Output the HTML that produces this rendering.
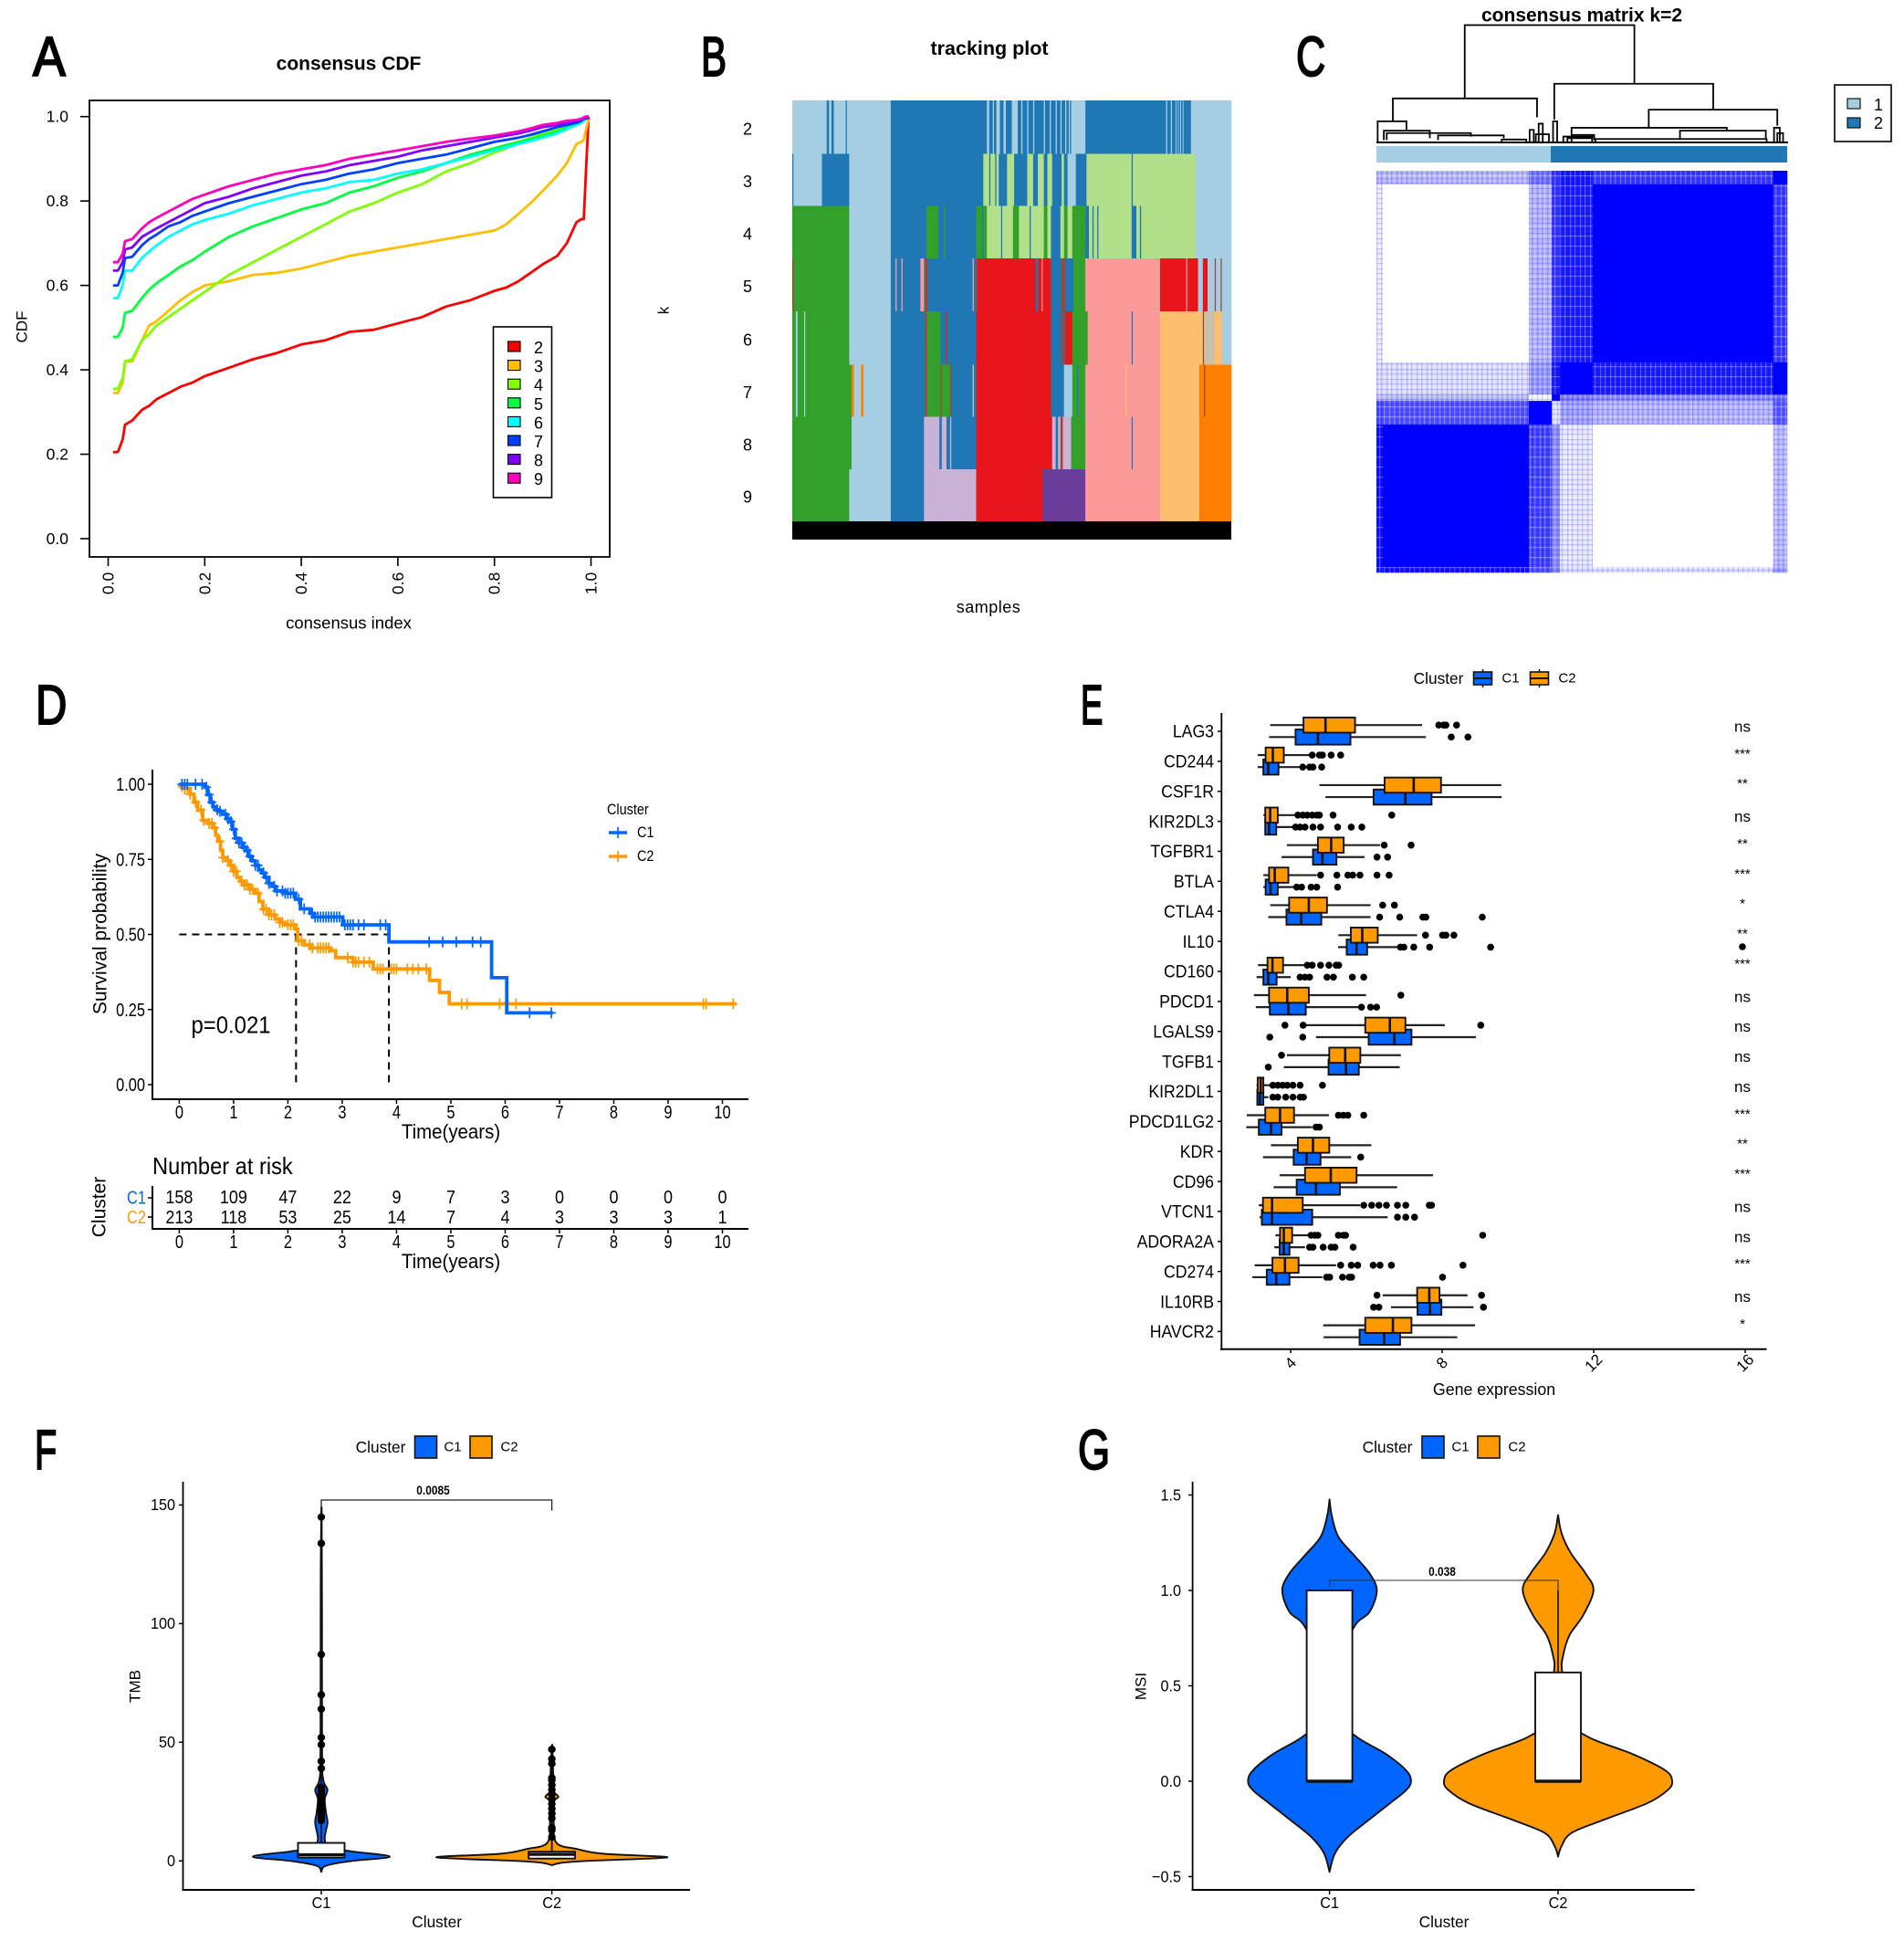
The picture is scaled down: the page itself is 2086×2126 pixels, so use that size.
<!DOCTYPE html>
<html lang="en">
<head>
<meta charset="utf-8">
<title>Consensus clustering figure</title>
<style>
html,body{margin:0;padding:0;background:#fff;}
#fig{display:block;font-family:"Liberation Sans",sans-serif;}
</style>
</head>
<body>
<svg id="fig" xmlns="http://www.w3.org/2000/svg" width="2086" height="2126" viewBox="0 0 2086 2126"></svg>
<script>
/* ---------- Panel A data ---------- */
const cdfX=[0.01,0.02,0.03,0.035,0.05,0.07,0.085,0.1,0.125,0.15,0.175,0.2,0.25,0.3,0.35,0.4,0.45,0.5,0.55,0.6,0.65,0.7,0.75,0.8,0.825,0.85,0.875,0.9,0.93,0.95,0.97,0.98,0.985,0.99,0.995];
const cdfK2=[.205,.205,.235,.27,.28,.305,.315,.33,.345,.36,.37,.385,.405,.425,.44,.46,.47,.49,.495,.51,.525,.55,.565,.587,.595,.61,.63,.65,.67,.70,.75,.757,.757,.88,1];
const cdfK3=[.345,.345,.37,.42,.42,.47,.505,.515,.54,.565,.585,.6,.61,.625,.63,.64,.655,.67,.68,.69,.70,.71,.72,.73,.745,.77,.795,.824,.86,.89,.935,.94,.945,.97,.993];
const cdfK4=[.355,.355,.38,.42,.425,.47,.485,.505,.525,.545,.565,.585,.625,.655,.685,.715,.745,.775,.795,.82,.84,.87,.89,.915,.925,.94,.95,.96,.97,.98,.985,.99,.995,.995,1];
const cdfK5=[.478,.478,.5,.535,.54,.57,.59,.605,.625,.645,.66,.68,.715,.74,.76,.78,.795,.82,.835,.855,.87,.89,.91,.925,.933,.94,.947,.955,.965,.975,.985,.99,.995,.995,1];
const cdfK6=[.57,.57,.6,.635,.635,.665,.68,.695,.715,.73,.745,.755,.77,.79,.805,.82,.83,.845,.85,.865,.875,.89,.905,.92,.927,.935,.942,.95,.96,.97,.98,.985,.99,.995,1];
const cdfK7=[.6,.6,.63,.665,.668,.695,.71,.72,.74,.75,.765,.775,.795,.81,.825,.84,.85,.865,.875,.89,.9,.91,.925,.94,.945,.95,.957,.965,.975,.98,.985,.99,.995,.995,1];
const cdfK8=[.635,.635,.655,.685,.69,.715,.725,.735,.75,.765,.78,.795,.81,.83,.845,.86,.87,.885,.895,.905,.92,.93,.94,.95,.955,.96,.967,.975,.98,.985,.99,.995,.995,1,1];
const cdfK9=[.655,.655,.675,.705,.71,.735,.75,.76,.775,.79,.805,.815,.835,.85,.865,.875,.885,.9,.91,.92,.93,.94,.948,.955,.96,.965,.972,.98,.985,.99,.992,.995,.998,1,1];
const cdfLabels=['2','3','4','5','6','7','8','9'];
const cdfTicks=['0.0','0.2','0.4','0.6','0.8','1.0'];

/* ---------- Panel B data: runs of [first sample, cluster] ---------- */
const trackK2=[[0,1],[29,2],[31,1],[33,2],[35,1],[45,2],[46,1],[83,2],[164,1],[166,2],[169,1],[170,2],[172,1],[175,2],[178,1],[180,2],[185,1],[190,2],[193,1],[194,2],[198,1],[199,2],[203,1],[204,2],[212,1],[213,2],[217,1],[218,2],[222,1],[223,2],[226,1],[227,2],[230,1],[231,2],[233,1],[234,2],[235,1],[247,2],[315,1],[316,2],[319,1],[320,2],[323,1],[323.7,2],[325,1],[325.7,2],[327,1],[327.7,2],[329,1],[329.7,2],[336,1]];
const trackK3=[[0,2],[1,1],[25,2],[48,1],[83,2],[161,3],[166,2],[167,3],[171,2],[172,3],[174,2],[181,3],[187,2],[198,3],[203,2],[207,3],[212,2],[215,3],[219,2],[227,3],[229,2],[232,1],[239,2],[248,3],[286,2],[287,3],[340,1]];
const trackK4=[[0,4],[48,1],[83,2],[113,4],[123,2],[128,4],[129,2],[155,4],[160,2],[161,4],[164,3],[176,2],[177,3],[186,4],[191,3],[200,2],[201,3],[212,4],[215,3],[218,2],[226,3],[229,4],[232,3],[236,4],[247,2],[250,3],[253,2],[254,3],[257,2],[258,3],[286,2],[290,3],[293,2],[294,3],[340,1]];
const trackK5=[[0,11],[1,4],[48,1],[83,2],[87,5],[88,2],[92,5],[93,2],[108,5],[111,2],[112,11],[114,2],[152,5],[153,2],[155,11],[156,6],[205,2],[207,6],[210,5],[211,6],[218,2],[227,11],[230,2],[237,4],[247,5],[310,6],[332,5],[333,6],[342,1],[346,6],[350,1],[356,11],[357,1],[361,11],[362,1]];
const trackK6=[[0,4],[3,1],[4.5,4],[10,1],[11,4],[48,1],[83,2],[112,11],[113.5,4],[125,2],[129,11],[130.5,2],[155,6],[218,2],[227,11],[229,2],[230,6],[236,4],[249,5],[286,2],[287,5],[310,7],[346,11],[347,12],[356,7],[362,1]];
const trackK7=[[0,4],[3,1],[4.5,4],[10,1],[11,4],[50,8],[52,1],[58,8],[60,1],[83,2],[112,11],[113.5,4],[125,11],[126,4],[133,11],[134,2],[152,12],[153,2],[155,6],[218,2],[229,1],[236,4],[240,2],[241,4],[247,5],[281,7],[282,5],[310,7],[343,8],[347,11],[348,8]];
const trackK8=[[0,4],[50,1],[83,2],[111,9],[124,2],[126,9],[130,2],[133,9],[134,2],[155,6],[219,9],[222,2],[224,9],[226,11],[228,9],[235,4],[247,5],[286,2],[287,5],[310,7],[343,8]];
const trackK9=[[0,4],[48,1],[83,2],[111,9],[155,6],[211,10],[247,5],[310,7],[343,8]];
const trackK=['2','3','4','5','6','7','8','9'];

/* ---------- Panel C data ---------- */
const matrixColBreaks=[0,.016,.371,.427,.447,.527,.966,1];
const matrixRowBreaks=[0,.034,.477,.557,.573,.632,.986,1];
const matrixValues=[
[.3,.28,.55,.8,.92,.78,1],
[.08,0,.3,.8,.9,1,.78],
[.15,.13,.4,.92,1,.9,1],
[.3,.3,.05,1,.55,.5,.6],
[.72,.68,1,.12,.38,.3,.65],
[.95,1,.75,.45,.1,0,.28],
[.9,.95,.7,.5,.15,.12,.4]];
const dendroMerges=[
[.215,.628,1,.375,.5],[.04,.391,.375,.18,.214],[.433,.82,.5,.196,.279],[.663,.976,.279,.125,.143],
[.475,.853,.125,.071,.1],[.739,.948,.1,.029,.029],[.003,.073,.18,0,.1],[.018,.13,.1,.02,.036],
[.025,.23,.08,.02,.05],[.15,.31,.06,.02,.036],[.305,.365,.025,0,0],[.373,.383,.107,0,0],
[.395,.405,.16,0,0],[.388,.42,.07,0,0],[.43,.44,.18,0,0],[.455,.53,.05,0,.018],
[.475,.53,.064,0,.02],[.465,.525,.036,0,0],[.533,.95,.029,0,0],[.968,.982,.125,0,0],[.976,.99,.079,0,0]];

/* ---------- Panel D data ---------- */
const kmC1Time=[0,.48,.52,.57,.62,.66,.72,.8,.87,.94,.98,1.03,1.1,1.16,1.22,1.28,1.34,1.4,1.46,1.52,1.58,1.65,1.71,1.77,1.95,2.14,2.23,2.41,2.46,3.01,3.86,5.75,6.03];
const kmC1Surv=[1,.99,.965,.94,.925,.915,.91,.9,.885,.875,.85,.82,.805,.79,.78,.76,.745,.73,.715,.705,.69,.67,.66,.645,.637,.617,.585,.57,.558,.532,.475,.356,.239];
const kmC1End=6.88;
const kmC2Time=[0,.1,.2,.27,.34,.43,.52,.62,.67,.71,.76,.8,.87,.94,1.0,1.06,1.12,1.2,1.3,1.4,1.47,1.54,1.65,1.77,1.85,1.95,2.14,2.18,2.3,2.41,2.78,2.88,3.2,3.57,4.61,4.79,4.97];
const kmC2Surv=[.993,.985,.967,.94,.914,.88,.87,.855,.83,.81,.78,.756,.745,.73,.71,.69,.677,.665,.65,.637,.61,.584,.565,.551,.54,.532,.518,.479,.465,.455,.446,.423,.408,.385,.347,.307,.269];
const kmC2End=10.25;
const censorC1=[.05,.1,.15,.3,.42,.5,.55,.6,.7,.75,.85,.9,.95,1,1.05,1.1,1.15,1.2,1.25,1.3,1.4,1.45,1.55,1.6,1.65,1.75,1.8,1.9,1.95,2,2.05,2.1,2.2,2.3,2.45,2.5,2.55,2.6,2.65,2.7,2.75,2.8,2.85,2.9,2.95,3.05,3.1,3.15,3.2,3.3,3.4,3.7,3.8,4.6,4.85,5.1,5.4,5.55,6.45,6.85];
const censorC2=[.05,.1,.15,.2,.3,.4,.45,.55,.6,.65,.75,.8,.9,.95,1,1.05,1.15,1.2,1.25,1.3,1.35,1.45,1.55,1.6,1.65,1.7,1.75,1.85,1.9,2,2.05,2.1,2.2,2.25,2.4,2.45,2.55,2.6,2.65,2.7,2.75,3.1,3.2,3.25,3.3,3.4,3.5,3.65,3.7,3.75,3.9,3.95,4.0,4.2,4.3,4.4,4.55,5.2,5.3,5.9,6.2,9.65,9.7,10.2];
const medianTimes=[2.15,3.86];
const kmXTicks=[0,1,2,3,4,5,6,7,8,9,10];
const kmYTicks=[0,.25,.5,.75,1];
const riskC1=[158,109,47,22,9,7,3,0,0,0,0];
const riskC2=[213,118,53,25,14,7,4,3,3,3,1];

/* ---------- Panel E data: [low whisker, q1, median, q3, high whisker] ---------- */
const genes=['LAG3','CD244','CSF1R','KIR2DL3','TGFBR1','BTLA','CTLA4','IL10','CD160','PDCD1','LGALS9','TGFB1','KIR2DL1','PDCD1LG2','KDR','CD96','VTCN1','ADORA2A','CD274','IL10RB','HAVCR2'];
const geneSig=['ns','***','**','ns','**','***','*','**','***','ns','ns','ns','ns','***','**','***','ns','ns','***','ns','*'];
const boxC2=[[3.46,4.34,4.92,5.70,7.47],[3.13,3.34,3.53,3.82,4.50],[4.76,6.48,7.25,7.97,9.56],[3.28,3.33,3.46,3.66,4.13],[3.9,4.72,5.07,5.40,6.36],[3.28,3.43,3.58,3.94,4.69],[3.46,3.96,4.48,4.96,6.11],[5.26,5.59,5.89,6.30,7.34],[3.14,3.39,3.52,3.80,4.38],[3.03,3.43,3.91,4.48,5.99],[4.38,5.97,6.62,7.03,8.07],[3.90,5.02,5.44,5.84,6.91],[3.10,3.13,3.21,3.28,3.46],[2.84,3.33,3.72,4.09,5.01],[3.48,4.19,4.59,5.02,6.13],[3.71,4.38,5.06,5.74,7.76],[3.16,3.27,3.51,4.32,5.83],[3.60,3.72,3.82,4.04,4.47],[3.05,3.52,3.85,4.21,5.20],[6.43,7.34,7.66,7.93,8.67],[4.86,5.97,6.70,7.19,8.87]];
const boxC1=[[3.43,4.13,4.72,5.58,7.57],[3.13,3.28,3.41,3.68,4.25],[4.92,6.19,7.03,7.72,9.57],[3.31,3.33,3.43,3.62,4.06],[3.76,4.59,4.84,5.21,5.95],[3.28,3.34,3.47,3.66,4.09],[3.41,3.89,4.28,4.81,6.11],[5.25,5.48,5.74,6.02,6.84],[3.10,3.28,3.41,3.63,4.0],[3.08,3.45,3.94,4.40,5.80],[4.67,6.06,6.74,7.19,8.89],[3.82,5.0,5.46,5.80,6.88],[3.10,3.12,3.19,3.28,3.41],[2.83,3.16,3.48,3.76,4.57],[3.27,4.08,4.42,4.79,5.60],[3.55,4.16,4.67,5.30,6.81],[3.18,3.24,3.51,4.57,6.56],[3.57,3.71,3.82,3.97,4.38],[2.99,3.37,3.62,3.97,4.84],[6.65,7.35,7.68,7.98,8.83],[4.87,5.82,6.47,6.89,8.40]];
const outC2=[[7.91,8.04,8.10,8.38],[4.57,4.76,4.84,5.07,5.32],[],[4.19,4.32,4.44,4.57,4.69,4.76,5.12,6.67],[6.47,7.18],[4.79,5.22,5.51,5.64,5.83,6.28,6.60],[6.43,6.74],[7.56,8.01,8.10,8.31],[4.44,4.57,4.79,5.01,5.20,5.27],[6.91],[3.85,4.33,9.02],[3.76],[3.53,3.66,3.79,3.91,4.06,4.25,4.84],[5.26,5.39,5.51,5.93],[],[],[5.93,6.14,6.33,6.53,6.82,7.04,7.66,7.72],[4.54,4.64,4.72,5.26,5.39,5.45,9.07],[5.32,5.60,5.77,6.18,6.36,6.66,8.55],[6.28,9.04],[]];
const outC1=[[8.24,8.68],[4.32,4.50,4.59,4.82],[],[4.13,4.25,4.38,4.59,4.79,5.24,5.60,5.88],[6.28,6.56],[4.16,4.29,4.54,4.69,5.24],[6.35,6.88,7.49,7.57,9.06],[6.90,6.99,7.25,7.67,9.28],[4.25,4.38,4.50,4.96,5.13,5.63,5.93],[5.87,6.11,6.27],[3.45,4.32],[3.41],[3.53,3.66,3.87,4.06,4.25,4.34],[4.67,4.76],[5.85],[],[6.82,7.04,7.27],[4.50,4.59,4.86,5.07,5.17,5.65],[4.95,5.03,5.37,5.55,5.61,8.01],[6.19,6.33,9.09],[]];
const geneXTicks=[4,8,12,16];

/* ---------- Panel F data ---------- */
const tmbTicks=[0,50,100,150];
const tmbC1Values=[-4.6,-2,0,1.8,4,5.5,9,16,20,26,30,34,45,100,149];
const tmbC1Density=[0,.07,.45,1,.45,.14,.05,.09,.07,.05,.09,.03,.012,.01,.005];
const tmbC2Values=[-1.8,-.8,0,1.5,3,5,7.6,17,25,27,29,31,49];
const tmbC2Density=[0,.08,.3,1,.45,.22,.04,.016,.02,.056,.02,.016,.003];
const tmbC1Box=[1.4,2.6,7.6];
const tmbC2Box=[1,2.8,3.9];
const tmbC1Points=[144.9,133.8,87,70,64,52,49,42,39,31,30,29,28,26,24,22,21,20,19,18,17];
const tmbC2Points=[47,43,41,35,34,32,30,28,26,24,22,20,18,14,13,10];

/* ---------- Panel G data ---------- */
const msiTicks=[-.5,0,.5,1,1.5];
const msiC1Values=[-.475,-.375,-.29,-.2,-.116,-.047,0,.057,.143,.23,.316,.5,.8,.886,1,1.09,1.18,1.28,1.387,1.477];
const msiC1Density=[0,.07,.23,.49,.74,.94,1,.94,.69,.34,.14,.02,.29,.49,.58,.49,.31,.11,.03,0];
const msiC2Values=[-.395,-.34,-.27,-.2,-.116,-.047,0,.057,.143,.23,.316,.57,.66,.765,.87,1,1.09,1.197,1.3,1.395];
const msiC2Density=[0,.03,.12,.41,.78,.96,1,.94,.65,.27,.12,.037,.045,.1,.22,.31,.24,.11,.03,0];
const msiC1Box=[0,0,1];
const msiC2Box=[0,0,.57];

/* ---------- helpers ---------- */
const NS='http://www.w3.org/2000/svg';
const svg=document.getElementById('fig');
const BLUE='#0066ff', ORANGE='#ff9900';
function node(tag,parent,name,props){
  const el=document.createElementNS(NS,tag);
  
  
  for(const k in (props||{})) el.setAttribute(k,props[k]);
  parent.appendChild(el);
  return el;
}
function group(parent,name){return node('g',parent,name);}
function line(p,name,x1,y1,x2,y2,stroke,w,dash){
  const o={x1,y1,x2,y2,stroke:stroke||'#000','stroke-width':w||1.5};
  if(dash) o['stroke-dasharray']=dash;
  return node('line',p,name,o);
}
function rect(p,name,x,y,w,h,fill,stroke,sw){
  const o={x,y,width:w,height:h,fill:fill||'none'};
  if(stroke){o.stroke=stroke;o['stroke-width']=sw||1.5;}
  return node('rect',p,name,o);
}
function txt(p,name,x,y,str,o){
  o=o||{};
  const tr='translate('+x+','+y+')'+(o.rot?' rotate('+o.rot+')':'')+(o.sx?' scale('+o.sx+',1)':'');
  const a={transform:tr,'font-size':o.size||17,'text-anchor':o.anchor||'middle',fill:o.fill||'#000'};
  if(!o.base) a['dominant-baseline']='central';
  if(o.weight) a['font-weight']=o.weight;
  if(o.stroke){a.stroke=o.stroke;a['stroke-width']=o.sw||1;}
  if(o.spacing) a['letter-spacing']=o.spacing;
  const el=node('text',p,name,a);
  el.textContent=str;
  return el;
}
function smooth(pts){
  let d='';
  for(let i=0;i<pts.length-1;i++){
    const p0=pts[Math.max(i-1,0)],p1=pts[i],p2=pts[i+1],p3=pts[Math.min(i+2,pts.length-1)];
    const c1=[p1[0]+(p2[0]-p0[0])/6,p1[1]+(p2[1]-p0[1])/6];
    const c2=[p2[0]-(p3[0]-p1[0])/6,p2[1]-(p3[1]-p1[1])/6];
    d+=(i?'':'M'+p1[0].toFixed(1)+' '+p1[1].toFixed(1))+'C'+c1[0].toFixed(1)+' '+c1[1].toFixed(1)+' '+c2[0].toFixed(1)+' '+c2[1].toFixed(1)+' '+p2[0].toFixed(1)+' '+p2[1].toFixed(1);
  }
  return d;
}
function linear(d0,d1,r0,r1){return v=>r0+(v-d0)*(r1-r0)/(d1-d0);}

/* ---------- panel letters ---------- */
const panelLetters=[['A',36,83,.88],['B',768,83,.69],['C',1420,83,.73],['D',39,793,.78],['E',1184,793,.6],['F',38,1609,.65],['G',1181,1609,.74]];
panelLetters.forEach(function(L){
  txt(svg,'panel-label-'+L[0].toLowerCase(),L[1],L[2],L[0],{size:61,anchor:'start',sx:L[3],base:true,stroke:'#000',sw:2});
});

/* ---------- Panel A ---------- */
(function(){
  const g=group(svg,'panel-a-consensus-cdf');
  const x=linear(0,1,118.5,647.5), y=linear(0,1,590,127.7);
  rect(g,'plot-frame',98,110,570,500,'none','#000',1.8);
  txt(g,'chart-title',382,70,'consensus CDF',{size:21,weight:'bold'});
  txt(g,'x-axis-title',382,682,'consensus index',{size:18.5});
  txt(g,'y-axis-title',24,358,'CDF',{size:17,rot:-90});
  cdfTicks.forEach(function(t){
    const v=parseFloat(t);
    line(g,'x-tick',x(v),610,x(v),620,'#000',1.6);
    txt(g,'x-tick-label',x(v),639,t,{size:17.5,rot:-90});
    line(g,'y-tick',88,y(v),98,y(v),'#000',1.6);
    txt(g,'y-tick-label',75,y(v),t,{size:17.5,anchor:'end'});
  });
  const series=[cdfK2,cdfK3,cdfK4,cdfK5,cdfK6,cdfK7,cdfK8,cdfK9];
  const colors=['#ff0000','#ffbf00','#80ff00','#00ff40','#00ffff','#0040ff','#8000ff','#ff00bf'];
  series.forEach(function(s,i){
    let d='';
    s.forEach(function(v,j){d+=(j?'L':'M')+x(cdfX[j]).toFixed(1)+' '+y(v).toFixed(1);});
    node('path',g,'cdf-line-k'+cdfLabels[i],{d:d,fill:'none',stroke:colors[i],'stroke-width':2.8,'stroke-linejoin':'round'});
  });
  const lg=group(g,'legend');
  rect(lg,'legend-frame',540.5,358,64,187,'#fff','#000',1.6);
  cdfLabels.forEach(function(l,i){
    const cy=379.5+i*20.6;
    rect(lg,'legend-swatch-'+l,556.5,cy-5.5,13.5,11,colors[i],'#000',1.1);
    txt(lg,'legend-label-'+l,590,cy+1.5,l,{size:18});
  });
})();

/* ---------- Panel B ---------- */
(function(){
  const g=group(svg,'panel-b-tracking-plot');
  const palette={1:'#a6cee3',2:'#1f78b4',3:'#b2df8a',4:'#33a02c',5:'#fb9a99',6:'#e8161a',7:'#fdbf6f',8:'#ff7f00',9:'#cab2d6',10:'#6a3d9a',11:'#a8432a',12:'#c8c0a8'};
  const rows=[trackK2,trackK3,trackK4,trackK5,trackK6,trackK7,trackK8,trackK9];
  const x=linear(0,370,868,1349);
  const rowEdge=[110,168.5,225.5,283,341,399.5,456.5,514,571];
  rows.forEach(function(r,i){
    const rg=group(g,'track-row-k'+trackK[i]);
    r.forEach(function(run,j){
      const end=j<r.length-1?r[j+1][0]:370;
      rect(rg,'track-run',x(run[0]),rowEdge[i],x(end)-x(run[0])+.3,rowEdge[i+1]-rowEdge[i],palette[run[1]]);
    });
    txt(g,'k-tick-label-'+trackK[i],819,(rowEdge[i]+rowEdge[i+1])/2+2,trackK[i],{size:18});
  });
  rect(g,'sample-bar',868,571,481,20,'#000');
  txt(g,'chart-title',1084,53,'tracking plot',{size:21.5,weight:'bold'});
  txt(g,'x-axis-title',1083,665,'samples',{size:18,spacing:.5});
  txt(g,'y-axis-title',727,340,'k',{size:17,rot:-90});
})();

/* ---------- Panel C ---------- */
(function(){
  const g=group(svg,'panel-c-consensus-matrix');
  const defs=node('defs',g,'matrix-texture-defs');
  const pat=node('pattern',defs,'matrix-texture',{id:'matrixTex',width:11,height:11,patternUnits:'userSpaceOnUse'});
  [[1,'v'],[4,'v'],[6,'v'],[9,'v'],[2,'h'],[5,'h'],[8,'h']].forEach(function(t,i){
    const col=i%2?'#ffffff':'#0000ff';
    const op=i%2?.28:.16;
    const o=t[1]==='v'?{x:t[0],y:0,width:1.2,height:11,fill:col,'fill-opacity':op}:{x:0,y:t[0],width:11,height:1.2,fill:col,'fill-opacity':op};
    node('rect',pat,'matrix-texture-line',o);
  });
  const X0=1508,W=450,Y0=187,H=440;
  matrixValues.forEach(function(row,i){
    row.forEach(function(v,j){
      const shade=Math.round(255*(1-v));
      const c='rgb('+shade+','+shade+',255)';
      const cx=X0+matrixColBreaks[j]*W, cy=Y0+matrixRowBreaks[i]*H;
      const cw=(matrixColBreaks[j+1]-matrixColBreaks[j])*W+.3, ch=(matrixRowBreaks[i+1]-matrixRowBreaks[i])*H+.3;
      rect(g,'matrix-cell',cx,cy,cw,ch,c);
      if(v>.02&&v<.98) rect(g,'matrix-cell-texture',cx,cy,cw,ch,'url(#matrixTex)');
    });
  });
  rect(g,'cluster-bar-1',1508,160,191,18,'#a6cee3');
  rect(g,'cluster-bar-2',1699,160,259,18,'#1f78b4');
  const dx=u=>X0+u*W, dy=h=>156-h*128.5;
  const dg=group(g,'dendrogram');
  dendroMerges.forEach(function(m){
    const d='M'+dx(m[0])+' '+dy(m[3])+'V'+dy(m[2])+'H'+dx(m[1])+'V'+dy(m[4]);
    node('path',dg,'dendrogram-merge',{d:d,fill:'none',stroke:'#000','stroke-width':1.8});
  });
  line(dg,'dendrogram-base',1508,156,1959,156,'#000',2);
  txt(g,'chart-title',1733,17,'consensus matrix k=2',{size:21,weight:'bold'});
  const lg=group(g,'legend');
  rect(lg,'legend-frame',2010,93,62,62,'#fff','#000',1.6);
  rect(lg,'legend-swatch-1',2024,108,14,11,'#a6cee3','#000',1.1);
  rect(lg,'legend-swatch-2',2024,129,14,11,'#1f78b4','#000',1.1);
  txt(lg,'legend-label-1',2058,115,'1',{size:18});
  txt(lg,'legend-label-2',2058,135,'2',{size:18});
})();

/* ---------- Panel D ---------- */
(function(){
  const g=group(svg,'panel-d-survival');
  const x=linear(0,10,196.4,791.5), y=linear(0,1,1188,859);
  function stepPath(t,s,end){
    let d='M'+x(t[0]).toFixed(1)+' '+y(s[0]).toFixed(1);
    for(let i=1;i<t.length;i++) d+='H'+x(t[i]).toFixed(1)+'V'+y(s[i]).toFixed(1);
    return d+'H'+x(end).toFixed(1);
  }
  function survAt(t,s,v){let r=s[0];t.forEach(function(tt,i){if(tt<=v) r=s[i];});return r;}
  line(g,'y-axis',167,843,167,1205,'#000',2);
  line(g,'x-axis',166,1204,820,1204,'#000',2);
  kmYTicks.forEach(function(v){
    line(g,'y-tick',162,y(v),167,y(v),'#000',1.5);
    txt(g,'y-tick-label',159,y(v),v.toFixed(2),{size:20,anchor:'end',sx:.82});
  });
  kmXTicks.forEach(function(v){
    line(g,'x-tick',x(v),1204,x(v),1209,'#000',1.5);
    txt(g,'x-tick-label',x(v),1218,String(v),{size:20,sx:.82});
    line(g,'risk-x-tick',x(v),1346,x(v),1351,'#000',1.5);
    txt(g,'risk-x-tick-label',x(v),1360,String(v),{size:20,sx:.82});
  });
  line(g,'median-line',x(0),y(.5),x(3.86),y(.5),'#000',2,'8 6');
  medianTimes.forEach(function(t){line(g,'median-drop',x(t),y(.5),x(t),y(0),'#000',2,'8 6');});
  function km(name,t,s,end,cens,col){
    const sg=group(g,name);
    node('path',sg,name+'-curve',{d:stepPath(t,s,end),fill:'none',stroke:col,'stroke-width':3.8});
    cens.forEach(function(c){
      const px=x(c),py=y(survAt(t,s,c));
      line(sg,'censor-mark',px-5,py,px+5,py,col,1.7);
      line(sg,'censor-mark',px,py-6,px,py+6,col,1.7);
    });
  }
  km('survival-c2',kmC2Time,kmC2Surv,kmC2End,censorC2,ORANGE);
  km('survival-c1',kmC1Time,kmC1Surv,kmC1End,censorC1,BLUE);
  txt(g,'p-value',253,1123,'p=0.021',{size:26,sx:.92});
  txt(g,'y-axis-title',110,1023,'Survival probability',{size:21,rot:-90});
  txt(g,'x-axis-title',494,1240,'Time(years)',{size:22,sx:.93});
  const lg=group(g,'legend');
  txt(lg,'legend-title',665,887,'Cluster',{size:17,anchor:'start',sx:.85});
  [[912,BLUE,'C1'],[938,ORANGE,'C2']].forEach(function(l){
    line(lg,'legend-line-'+l[2],667,l[0],687,l[0],l[1],3.6);
    line(lg,'legend-mark-'+l[2],677,l[0]-6,677,l[0]+6,l[1],1.7);
    txt(lg,'legend-label-'+l[2],698,l[0],l[2],{size:17,anchor:'start',sx:.85});
  });
  const rg=group(g,'risk-table');
  txt(rg,'risk-title',167,1278,'Number at risk',{size:26,anchor:'start',sx:.91});
  line(rg,'risk-y-axis',167,1299,167,1347,'#000',2);
  line(rg,'risk-x-axis',166,1346,820,1346,'#000',2);
  txt(rg,'risk-y-title',109,1322,'Cluster',{size:21,rot:-90});
  txt(rg,'risk-label-c1',160,1311.5,'C1',{size:20,anchor:'end',sx:.82,fill:BLUE});
  txt(rg,'risk-label-c2',160,1333,'C2',{size:20,anchor:'end',sx:.82,fill:ORANGE});
  line(rg,'risk-tick-c1',162,1312,167,1312,'#000',1.5);
  line(rg,'risk-tick-c2',162,1333,167,1333,'#000',1.5);
  kmXTicks.forEach(function(v,i){
    txt(rg,'risk-count-c1',x(v),1312,String(riskC1[i]),{size:20,sx:.9});
    txt(rg,'risk-count-c2',x(v),1334,String(riskC2[i]),{size:20,sx:.9});
  });
  txt(rg,'risk-x-title',494,1382,'Time(years)',{size:22,sx:.93});
})();

/* ---------- Panel E ---------- */
(function(){
  const g=group(svg,'panel-e-gene-expression');
  const x=linear(4,16,1414,1912);
  const yRow=i=>801+i*32.87;
  line(g,'y-axis',1338.3,781,1338.3,1479,'#000',1.8);
  line(g,'x-axis',1337,1477.7,1935.5,1477.7,'#000',2);
  geneXTicks.forEach(function(v){
    line(g,'x-tick',x(v),1477.7,x(v),1482,'#000',1.5);
    txt(g,'x-tick-label',x(v),1493,String(v),{size:17,rot:-45});
  });
  function boxes(gg,i,stats,outs,off,col,label){
    const cy=yRow(i)+off;
    const s=stats[i];
    line(gg,'whisker-'+label,x(s[0]),cy,x(s[4]),cy,'#222',2.2);
    rect(gg,'box-'+label,x(s[1]),cy-8.3,x(s[3])-x(s[1]),16.6,col,'#111',1.9);
    line(gg,'median-'+label,x(s[2]),cy-8.3,x(s[2]),cy+8.3,'#111',2.6);
    outs[i].forEach(function(o){
      node('circle',gg,'outlier-'+label,{cx:x(o),cy:cy,r:3.8,fill:'#000'});
    });
  }
  genes.forEach(function(name,i){
    const gg=group(g,'gene-row-'+name.toLowerCase());
    boxes(gg,i,boxC1,outC1,6.3,BLUE,'c1');
    boxes(gg,i,boxC2,outC2,-6.8,ORANGE,'c2');
    line(gg,'y-tick',1334,yRow(i),1338.3,yRow(i),'#000',1.5);
    txt(gg,'gene-label',1330,yRow(i),name,{size:19,anchor:'end',sx:.93});
    const sig=geneSig[i];
    txt(gg,'significance-label',1909,yRow(i)+(sig==='ns'?-5:-8),sig,{size:sig==='ns'?17:15});
  });
  node('circle',g,'significance-dot',{cx:1909,cy:1037,r:3.8,fill:'#000'});
  txt(g,'x-axis-title',1637,1521.7,'Gene expression',{size:18.5,sx:.96});
  const lg=group(g,'legend');
  txt(lg,'legend-title',1576,743,'Cluster',{size:18,sx:.96});
  [[1624.5,BLUE,'C1',1655],[1686.5,ORANGE,'C2',1717]].forEach(function(l){
    line(lg,'legend-whisker-'+l[2],l[0],733,l[0],753,'#111',1.5);
    rect(lg,'legend-box-'+l[2],l[0]-10,736,20,14,l[1],'#111',1.6);
    line(lg,'legend-median-'+l[2],l[0]-10,743,l[0]+10,743,'#111',2);
    txt(lg,'legend-label-'+l[2],l[3],743,l[2],{size:15});
  });
})();

/* ---------- Violin helper ---------- */
function violin(parent,name,cx,vals,dens,maxHw,col,y){
  const right=vals.map(function(v,i){return [cx+dens[i]*maxHw,y(v)];});
  const left=vals.map(function(v,i){return [cx-dens[i]*maxHw,y(v)];}).reverse();
  let d=smooth(right)+smooth(left).replace(/^M[^C]*/,'');
  return node('path',parent,name,{d:d+'Z',fill:col,stroke:'#111','stroke-width':1.9,'stroke-linejoin':'round'});
}
function statBox(parent,name,cx,hw,b,y,whiskerTop){
  if(whiskerTop!==undefined) line(parent,name+'-whisker',cx,y(b[2]),cx,y(whiskerTop),'#111',1.6);
  rect(parent,name,cx-hw,y(b[2]),hw*2,y(b[0])-y(b[2]),'#fff','#111',1.9);
  line(parent,name+'-median',cx-hw,y(b[1]),cx+hw,y(b[1]),'#111',3.4);
}
function ggLegend(g,tx,x1,lx1,x2,lx2){
  const lg=group(g,'legend');
  txt(lg,'legend-title',tx,1585,'Cluster',{size:18,sx:.96});
  rect(lg,'legend-swatch-c1',x1,1573,24,24,BLUE,'#111',1.6);
  txt(lg,'legend-label-c1',lx1,1585,'C1',{size:15});
  rect(lg,'legend-swatch-c2',x2,1573,24,24,ORANGE,'#111',1.6);
  txt(lg,'legend-label-c2',lx2,1585,'C2',{size:15});
}

/* ---------- Panel F ---------- */
(function(){
  const g=group(svg,'panel-f-tmb');
  const y=linear(0,150,2038.3,1648.4), c1=352, c2=604.6;
  line(g,'y-axis',200.5,1623,200.5,2071,'#000',1.8);
  line(g,'x-axis',199.5,2070,756,2070,'#000',2);
  tmbTicks.forEach(function(v){
    line(g,'y-tick',196,y(v),200.5,y(v),'#000',1.5);
    txt(g,'y-tick-label',192,y(v),String(v),{size:18,anchor:'end',sx:.9});
  });
  [[c1,'C1'],[c2,'C2']].forEach(function(t){
    line(g,'x-tick',t[0],2070,t[0],2075,'#000',1.5);
    txt(g,'x-tick-label',t[0],2084,t[1],{size:18,sx:.9});
  });
  violin(g,'violin-c1',c1,tmbC1Values,tmbC1Density,75,BLUE,y);
  violin(g,'violin-c2',c2,tmbC2Values,tmbC2Density,126.5,ORANGE,y);
  statBox(g,'box-c1',c1,25.5,tmbC1Box,y);
  statBox(g,'box-c2',c2,25.5,tmbC2Box,y);
  line(g,'line-c1',c1,y(tmbC1Box[2]),c1,y(149),'#111',1.8);
  line(g,'line-c2',c2,y(tmbC2Box[2]),c2,y(49),'#111',1.8);
  tmbC1Points.forEach(function(v){node('ellipse',g,'outlier-c1',{cx:c1,cy:y(v),rx:4.2,ry:4,fill:'#000'});});
  tmbC2Points.forEach(function(v){node('ellipse',g,'outlier-c2',{cx:c2,cy:y(v),rx:4.2,ry:4,fill:'#000'});});
  node('path',g,'significance-bracket',{d:'M'+c1+' 1655V1643H'+c2+'V1654.6',fill:'none',stroke:'#222','stroke-width':1.3});
  txt(g,'p-value',474.5,1632,'0.0085',{size:14,weight:'bold',sx:.85});
  txt(g,'y-axis-title',148,1847,'TMB',{size:17,rot:-90});
  txt(g,'x-axis-title',478.6,2105,'Cluster',{size:18,sx:.96});
  ggLegend(g,417,454.5,496,515,558);
})();

/* ---------- Panel G ---------- */
(function(){
  const g=group(svg,'panel-g-msi');
  const y=linear(0,1,1951,1742), c1=1456.6, c2=1707;
  line(g,'y-axis',1306.6,1623,1306.6,2071,'#000',1.8);
  line(g,'x-axis',1305.6,2070,1856.6,2070,'#000',2);
  msiTicks.forEach(function(v){
    line(g,'y-tick',1302,y(v),1306.6,y(v),'#000',1.5);
    txt(g,'y-tick-label',1294,y(v),(v<0?'\u2212':'')+Math.abs(v).toFixed(1),{size:18,anchor:'end',sx:.9});
  });
  [[c1,'C1'],[c2,'C2']].forEach(function(t){
    line(g,'x-tick',t[0],2070,t[0],2075,'#000',1.5);
    txt(g,'x-tick-label',t[0],2084,t[1],{size:18,sx:.9});
  });
  violin(g,'violin-c1',c1,msiC1Values,msiC1Density,89.3,BLUE,y);
  violin(g,'violin-c2',c2,msiC2Values,msiC2Density,125,ORANGE,y);
  statBox(g,'box-c1',c1,25,msiC1Box,y);
  statBox(g,'box-c2',c2,25,msiC2Box,y,1);
  node('path',g,'significance-bracket',{d:'M'+c1+' 1738V1731H'+c2+'V1742',fill:'none',stroke:'#333','stroke-width':1.1});
  txt(g,'p-value',1580,1721,'0.038',{size:14,weight:'bold',sx:.85});
  txt(g,'y-axis-title',1250,1847,'MSI',{size:17,rot:-90});
  txt(g,'x-axis-title',1582,2105,'Cluster',{size:18,sx:.96});
  ggLegend(g,1520,1558,1600,1619,1662);
})();
</script>
</body>
</html>
